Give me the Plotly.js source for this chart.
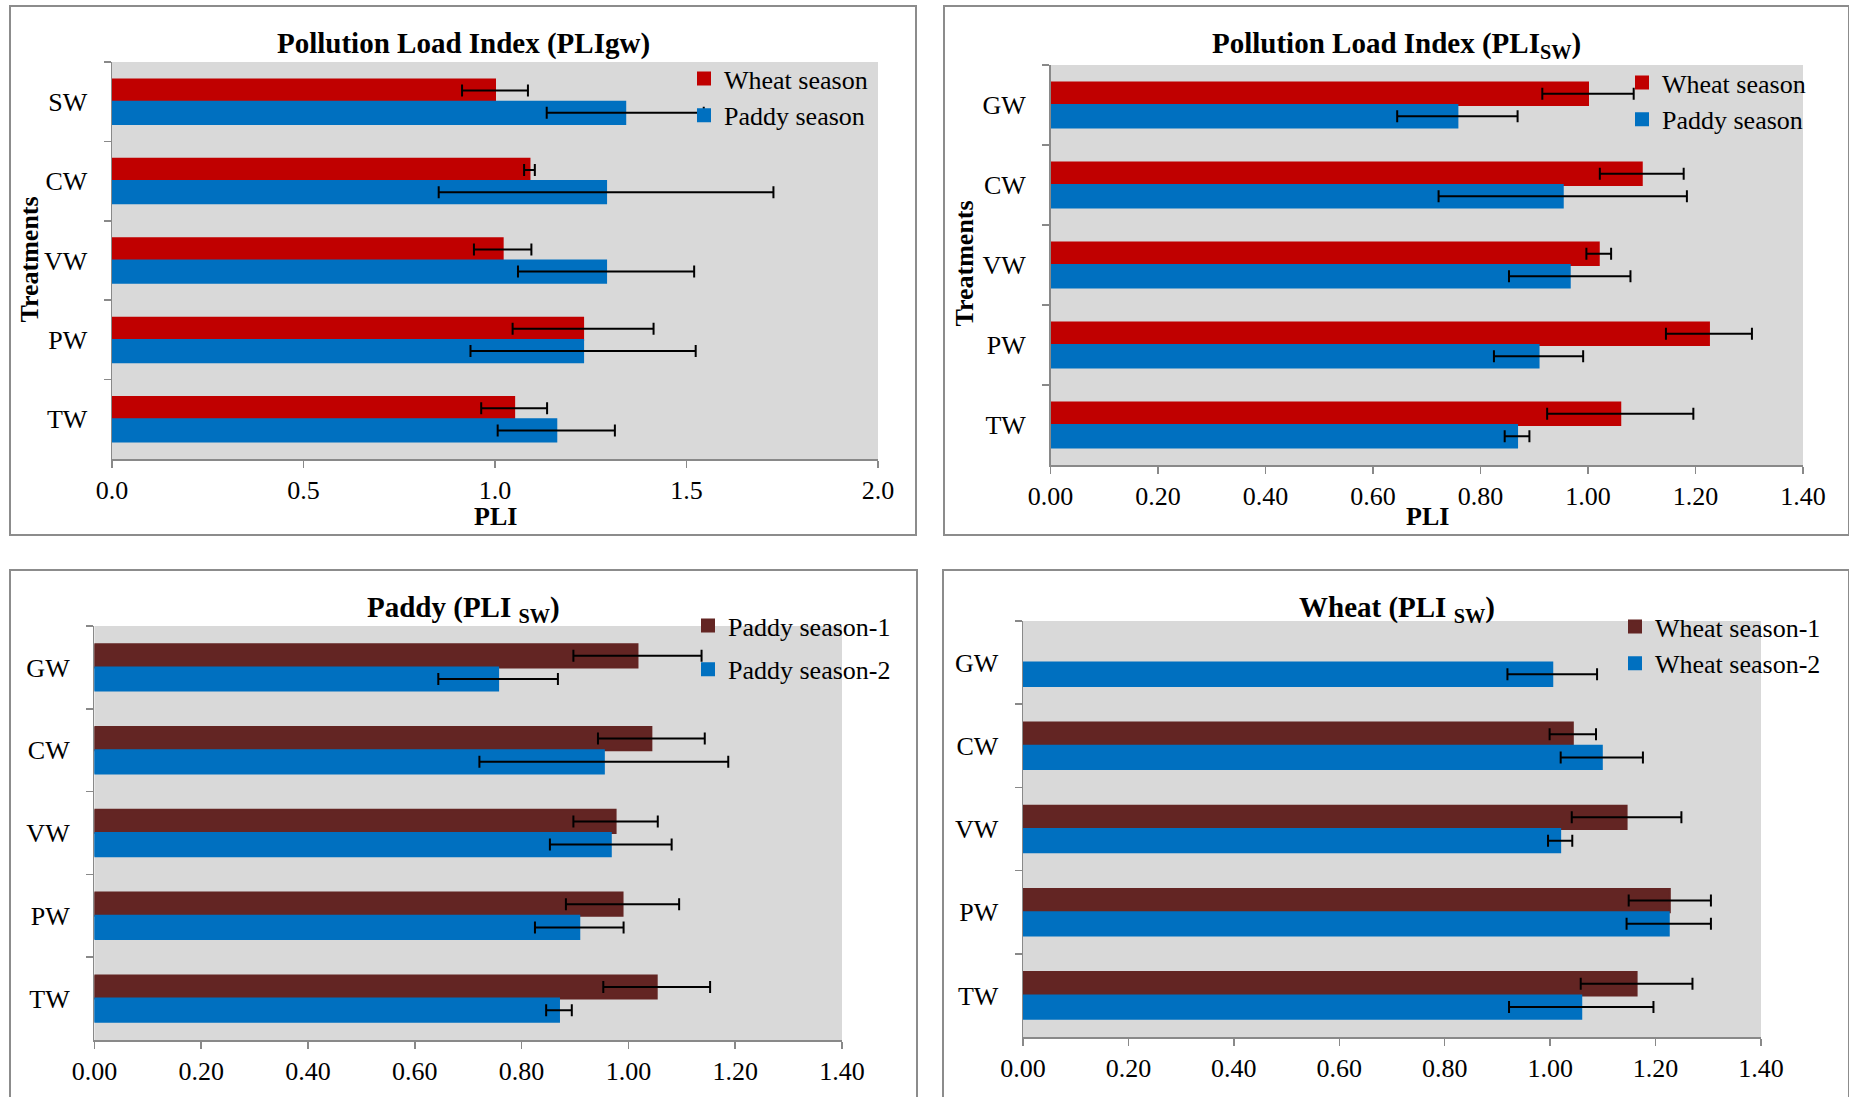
<!DOCTYPE html>
<html>
<head>
<meta charset="utf-8">
<script src="https://cdn.plot.ly/plotly-3.0.1.min.js"></script>
<style>
html,body{margin:0;padding:0;background:#ffffff;}
#chart{width:1849px;height:1097px;}
</style>
</head>
<body>
<div id="chart"></div>
<script>
// ---------------- DATA ----------------
// Panel 1: Pollution Load Index (PLIgw)
const gwCategories = ['SW', 'CW', 'VW', 'PW', 'TW'];
const gwWheat      = [1.00, 1.09, 1.02, 1.23, 1.05];
const gwWheatErr   = [0.086, 0.014, 0.075, 0.184, 0.086];
const gwPaddy      = [1.34, 1.29, 1.29, 1.23, 1.16];
const gwPaddyErr   = [0.205, 0.437, 0.230, 0.294, 0.153];

// Panel 2: Pollution Load Index (PLIsw)
const swCategories = ['GW', 'CW', 'VW', 'PW', 'TW'];
const swWheat      = [1.00, 1.10, 1.02, 1.225, 1.06];
const swWheatErr   = [0.085, 0.078, 0.023, 0.080, 0.136];
const swPaddy      = [0.757, 0.953, 0.966, 0.908, 0.868];
const swPaddyErr   = [0.112, 0.231, 0.113, 0.083, 0.023];

// Panel 3: Paddy (PLI sw)
const paddyCategories = ['GW', 'CW', 'VW', 'PW', 'TW'];
const paddyS1     = [1.017, 1.043, 0.976, 0.989, 1.053];
const paddyS1Err  = [0.120, 0.100, 0.079, 0.106, 0.100];
const paddyS2     = [0.756, 0.954, 0.967, 0.908, 0.870];
const paddyS2Err  = [0.112, 0.233, 0.114, 0.083, 0.024];

// Panel 4: Wheat (PLI sw)
const wheatCategories = ['GW', 'CW', 'VW', 'PW', 'TW'];
const wheatS1     = [null, 1.043, 1.145, 1.227, 1.164];
const wheatS1Err  = [null, 0.044, 0.104, 0.078, 0.106];
const wheatS2     = [1.004, 1.098, 1.019, 1.225, 1.059];
const wheatS2Err  = [0.085, 0.078, 0.023, 0.080, 0.137];

// ---------------- STYLE ----------------
const W = 1849, H = 1097;
const FONT = '"Liberation Serif", "Times New Roman", Times, serif';
const RED = '#C00000', BLUE = '#0070C0', MAROON = '#632523';
const AXIS = '#898989';
const fx = p => p / W;
const fy = p => 1 - p / H;

function bar(name, cats, vals, errs, color, n) {
  return {
    type: 'bar', orientation: 'h', name: name,
    y: cats, x: vals,
    xaxis: n === 1 ? 'x' : 'x' + n,
    yaxis: n === 1 ? 'y' : 'y' + n,
    legend: n === 1 ? 'legend' : 'legend' + n,
    legendgroup: name,
    marker: {color: color, line: {width: 2, color: color}},
    error_x: {type: 'data', array: errs, visible: true, color: '#000000', thickness: 2, width: 6},
    hoverinfo: 'x+y+name'
  };
}

const data = [
  bar('Wheat season', gwCategories, gwWheat, gwWheatErr, RED, 1),
  bar('Paddy season', gwCategories, gwPaddy, gwPaddyErr, BLUE, 1),
  bar('Wheat season', swCategories, swWheat, swWheatErr, RED, 2),
  bar('Paddy season', swCategories, swPaddy, swPaddyErr, BLUE, 2),
  bar('Paddy season-1', paddyCategories, paddyS1, paddyS1Err, MAROON, 3),
  bar('Paddy season-2', paddyCategories, paddyS2, paddyS2Err, BLUE, 3),
  bar('Wheat season-1', wheatCategories, wheatS1, wheatS1Err, MAROON, 4),
  bar('Wheat season-2', wheatCategories, wheatS2, wheatS2Err, BLUE, 4)
];

function xAxis(x0, x1, yAnchor, range, dtick, fmt) {
  return {
    domain: [fx(x0), fx(x1)], anchor: yAnchor, range: range, dtick: dtick, tick0: 0,
    tickformat: fmt, showgrid: false, zeroline: false,
    showline: true, linecolor: AXIS, linewidth: 1.5,
    ticks: 'outside', ticklen: 7, tickwidth: 1.5, tickcolor: AXIS,
    ticklabelstandoff: 0,
    tickfont: {family: FONT, size: 26, color: '#000'}, fixedrange: true
  };
}
function yAxis(y0, y1, xAnchor) {
  return {
    domain: [fy(y1), fy(y0)], anchor: xAnchor, type: 'category',
    autorange: 'reversed', showgrid: false, zeroline: false,
    showline: true, linecolor: AXIS, linewidth: 1.5,
    ticks: 'outside', ticklen: 7, tickwidth: 1.5, tickcolor: AXIS,
    tickson: 'boundaries', ticklabelstandoff: 18,
    tickfont: {family: FONT, size: 26, color: '#000'}, fixedrange: true
  };
}
function legend(xLeft, yTop, gap) {
  return {
    x: fx(xLeft), y: fy(yTop), xanchor: 'left', yanchor: 'top',
    xref: 'paper', yref: 'paper',
    bgcolor: 'rgba(0,0,0,0)', borderwidth: 0,
    font: {family: FONT, size: 26, color: '#000'},
    traceorder: 'grouped', tracegroupgap: gap
  };
}
function ann(text, x, y, size, angle) {
  return {
    text: text, x: fx(x), y: fy(y), xref: 'paper', yref: 'paper',
    xanchor: 'center', yanchor: 'middle', showarrow: false,
    textangle: angle || 0,
    font: {family: FONT, size: size, color: '#000'}
  };
}
function frame(x0, y0, x1, y1) {
  return {
    type: 'rect', xref: 'paper', yref: 'paper', layer: 'below',
    x0: fx(x0), x1: fx(x1), y0: fy(y1), y1: fy(y0),
    line: {color: '#8c8c8c', width: 2}, fillcolor: 'rgba(0,0,0,0)'
  };
}

const layout = {
  width: W, height: H,
  margin: {l: 0, r: 0, t: 0, b: 0, pad: 0},
  paper_bgcolor: '#ffffff', plot_bgcolor: '#D9D9D9',
  barmode: 'group', bargap: 0.44, bargroupgap: 0,
  showlegend: true,
  font: {family: FONT, size: 26, color: '#000'},
  xaxis:  xAxis(112, 878, 'y', [0, 2], 0.5, '.1f'),
  yaxis:  yAxis(62, 459, 'x'),
  xaxis2: xAxis(1050.5, 1803, 'y2', [0, 1.4], 0.2, '.2f'),
  yaxis2: yAxis(65, 465, 'x2'),
  xaxis3: xAxis(94.4, 842, 'y3', [0, 1.4], 0.2, '.2f'),
  yaxis3: yAxis(626, 1040, 'x3'),
  xaxis4: xAxis(1023, 1761, 'y4', [0, 1.4], 0.2, '.2f'),
  yaxis4: yAxis(621, 1037, 'x4'),
  legend:  legend(684, 55, 0),
  legend2: legend(1622, 59, 0),
  legend3: legend(688, 602, 7),
  legend4: legend(1615, 603, 0),
  annotations: [
    ann('<b>Pollution Load Index (PLIgw)</b>', 463, 43, 29),
    ann('<b>Pollution Load Index (PLI<sub>SW</sub>)</b>', 1396, 45, 29),
    ann('<b>Paddy (PLI <sub>SW</sub>)</b>', 464, 609, 29),
    ann('<b>Wheat (PLI <sub>SW</sub>)</b>', 1397, 609, 29),
    ann('<b>PLI</b>', 495, 516, 26),
    ann('<b>PLI</b>', 1427, 516, 26),
    ann('<b>Treatments</b>', 29.5, 260, 26, -90),
    ann('<b>Treatments</b>', 964.5, 264, 26, -90)
  ],
  shapes: [
    frame(10, 6, 916, 535),
    frame(944, 6, 1849, 535),
    frame(10, 570, 917, 1100),
    frame(943, 570, 1849, 1100)
  ]
};

Plotly.newPlot('chart', data, layout, {displayModeBar: false, staticPlot: true});
</script>
</body>
</html>
